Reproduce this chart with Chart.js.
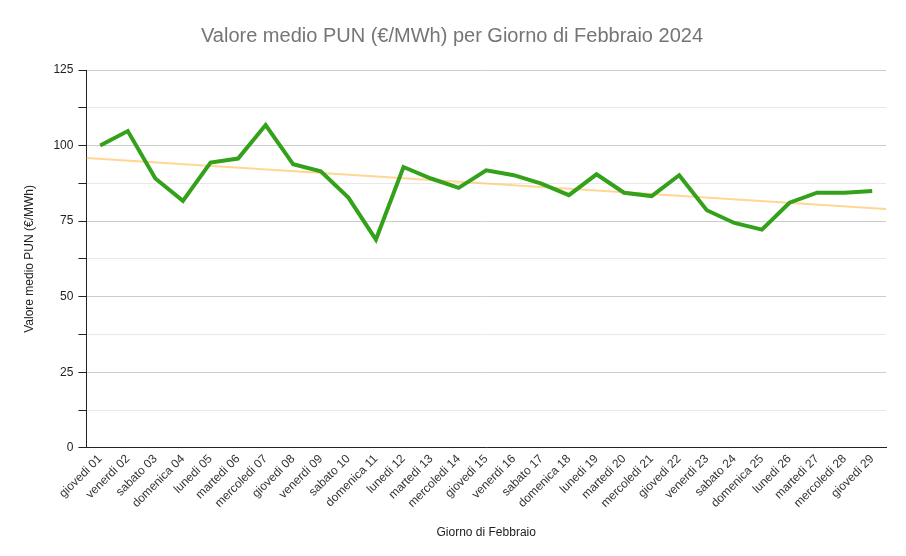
<!DOCTYPE html>
<html>
<head>
<meta charset="utf-8">
<script src="https://cdn.jsdelivr.net/npm/chart.js@4"></script>
<style>
  html, body { margin: 0; padding: 0; background: #fff; }
  #wrap { width: 906px; height: 556px; }
</style>
</head>
<body>
<div id="wrap"><canvas id="chartPun" width="906" height="556"></canvas></div>
<script>
// giorni di febbraio 2024
const giorni = [
  "giovedi 01", "venerdi 02", "sabato 03", "domenica 04", "lunedi 05", "martedi 06",
  "mercoledi 07", "giovedi 08", "venerdi 09", "sabato 10", "domenica 11", "lunedi 12",
  "martedi 13", "mercoledi 14", "giovedi 15", "venerdi 16", "sabato 17", "domenica 18",
  "lunedi 19", "martedi 20", "mercoledi 21", "giovedi 22", "venerdi 23", "sabato 24",
  "domenica 25", "lunedi 26", "martedi 27", "mercoledi 28", "giovedi 29"
];

// valore medio PUN (€/MWh)
const valoriPun = [
  100.0, 104.8, 89.1, 81.7, 94.4, 95.7, 106.8, 93.8, 91.5, 82.8,
  68.9, 92.9, 89.1, 86.0, 91.8, 90.2, 87.4, 83.6, 90.5, 84.4,
  83.3, 90.2, 78.6, 74.4, 72.2, 81.1, 84.4, 84.4, 85.0
];

// linea di tendenza, letta ai bordi del grafico
const tendenzaX = [-0.5, 28.5];
const tendenzaY = [95.9, 79.0];

const yTicks = [0, 25, 50, 75, 100, 125];

const font = "'Liberation Sans', Arial, sans-serif";
Chart.defaults.font.family = font;

const ctx = document.getElementById("chartPun").getContext("2d");

const chartPun = new Chart(ctx, {
  type: "line",
  data: {
    labels: giorni,
    datasets: [
      {
        label: "PUN",
        data: valoriPun,
        borderColor: "#33a11a",
        borderWidth: 4,
        pointRadius: 0,
        tension: 0,
        xAxisID: "x",
        order: 1,
      },
      {
        label: "Tendenza",
        data: tendenzaX.map((x, i) => ({ x: x, y: tendenzaY[i] })),
        borderColor: "rgba(255, 200, 110, 0.75)",
        borderWidth: 2,
        pointRadius: 0,
        xAxisID: "xt",
        order: 2,
      },
    ],
  },
  options: {
    responsive: false,
    animation: false,
    layout: { padding: { left: 18, right: 20, bottom: 12 } },
    plugins: {
      legend: { display: false },
      tooltip: { enabled: false },
      title: {
        display: true,
        text: "Valore medio PUN (€/MWh) per Giorno di Febbraio 2024",
        color: "#757575",
        font: { size: 20, weight: "normal" },
        padding: { top: 24, bottom: 22 },
      },
    },
    scales: {
      x: {
        type: "category",
        offset: true,
        grid: { display: false, drawTicks: true, tickLength: 2 },
        border: { color: "#222", width: 1 },
        ticks: {
          color: "#333",
          font: { size: 12 },
          maxRotation: 45,
          minRotation: 45,
          autoSkip: false,
          padding: 2,
        },
        title: {
          display: true,
          text: "Giorno di Febbraio",
          color: "#222",
          font: { size: 12 },
          padding: { top: 13 },
        },
      },
      xt: {
        type: "linear",
        display: false,
        min: -0.5,
        max: 28.5,
      },
      y: {
        min: 0,
        max: 125,
        ticks: {
          stepSize: 12.5,
          color: "#222",
          font: { size: 12 },
          padding: 5,
          callback: (v) => (yTicks.includes(v) ? v : ""),
        },
        grid: {
          color: (c) => (c.tick && yTicks.includes(c.tick.value) ? "#cccccc" : "#e8e8e8"),
          tickColor: "#222",
          tickLength: 8,
        },
        border: { color: "#222", width: 1 },
        title: {
          display: true,
          text: "Valore medio PUN (€/MWh)",
          color: "#222",
          font: { size: 12 },
          padding: { bottom: 12 },
        },
      },
    },
  },
});
</script>
</body>
</html>
